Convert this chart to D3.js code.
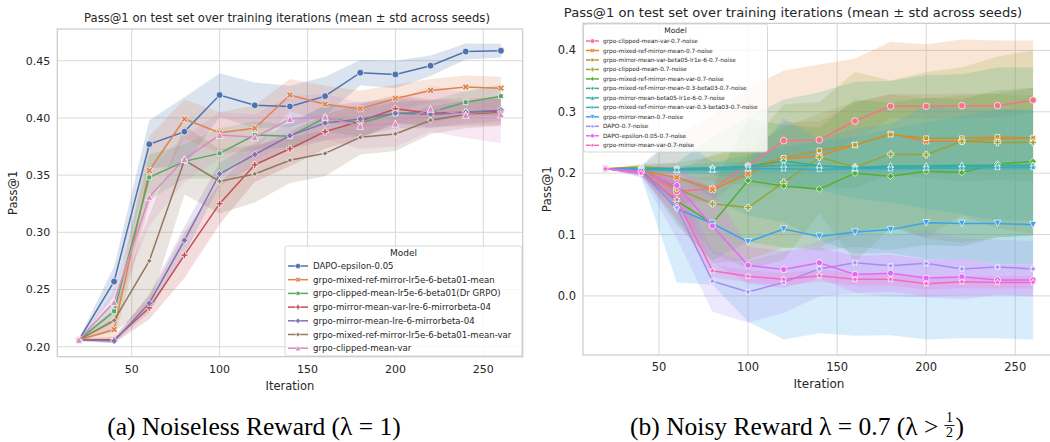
<!DOCTYPE html>
<html><head><meta charset="utf-8">
<script src="https://cdn.jsdelivr.net/npm/d3@7"></script>
<style>body{margin:0;background:#fff;} svg{display:block;font-family:"DejaVu Sans",sans-serif;}</style>
</head><body><svg id="c" width="1050" height="442"></svg>
<script>
const iterations = [20,40,60,80,100,120,140,160,180,200,220,240,260];
const xTicks = [50,100,150,200,250];
const leftYTicks = [0.20,0.25,0.30,0.35,0.40,0.45];
const rightYTicks = [0.0,0.1,0.2,0.3,0.4];

// ---- Left chart (noiseless) ----
const leftNames = ["DAPO-epsilon-0.05","grpo-mixed-ref-mirror-lr5e-6-beta01-mean","grpo-clipped-mean-lr5e-6-beta01(Dr GRPO)","grpo-mirror-mean-var-lre-6-mirrorbeta-04","grpo-mirror-mean-lre-6-mirrorbeta-04","grpo-mixed-ref-mirror-lr5e-6-beta01-mean-var","grpo-clipped-mean-var"];
const leftColors = ["#4c72b0","#dd8452","#55a868","#c44e52","#8172b3","#937860","#da8bc3"];
const leftMarkers = ["o","X","s","P","D","s4","^"];
const lDapo = [0.206,0.257,0.377,0.388,0.420,0.411,0.410,0.419,0.4395,0.438,0.4456,0.458,0.4587];
const lDapoStd = [0.001,0.013,0.021,0.03,0.019,0.02,0.018,0.017,0.011,0.012,0.009,0.007,0.006];
const lMixMean = [0.206,0.215,0.354,0.399,0.387,0.391,0.420,0.412,0.408,0.417,0.424,0.427,0.426];
const lMixMeanStd = [0.001,0.01,0.03,0.017,0.018,0.02,0.014,0.016,0.016,0.012,0.01,0.01,0.01];
const lClipMean = [0.206,0.231,0.348,0.362,0.369,0.385,0.384,0.400,0.3955,0.404,0.405,0.4137,0.419];
const lClipMeanStd = [0.001,0.01,0.02,0.015,0.022,0.012,0.01,0.012,0.012,0.01,0.01,0.01,0.01];
const lMirMeanVar = [0.206,0.206,0.234,0.280,0.325,0.359,0.373,0.388,0.397,0.408,0.404,0.405,0.406];
const lMirMeanVarStd = [0.001,0.003,0.01,0.02,0.018,0.015,0.015,0.015,0.015,0.012,0.012,0.012,0.012];
const lMirMean = [0.206,0.205,0.238,0.293,0.351,0.368,0.3845,0.3955,0.399,0.404,0.403,0.405,0.407];
const lMirMeanStd = [0.001,0.002,0.008,0.012,0.01,0.01,0.012,0.015,0.015,0.013,0.012,0.01,0.01];
const lMixMeanVar = [0.206,0.223,0.275,0.363,0.3445,0.351,0.363,0.369,0.383,0.386,0.398,0.403,0.405];
const lMixMeanVarStd = [0.001,0.01,0.04,0.03,0.028,0.025,0.02,0.02,0.015,0.015,0.012,0.012,0.012];
const lClipMeanVar = [0.206,0.239,0.331,0.364,0.385,0.383,0.399,0.401,0.393,0.395,0.408,0.4025,0.403];
const lClipMeanVarStd = [0.001,0.01,0.025,0.02,0.02,0.02,0.02,0.02,0.02,0.02,0.02,0.02,0.025];
const leftMeans = [lDapo,lMixMean,lClipMean,lMirMeanVar,lMirMean,lMixMeanVar,lClipMeanVar];
const leftStds = [lDapoStd,lMixMeanStd,lClipMeanStd,lMirMeanVarStd,lMirMeanStd,lMixMeanVarStd,lClipMeanVarStd];

// ---- Right chart (noisy 0.7) ----
const rightNames = ["grpo-clipped-mean-var-0.7-noise","grpo-mixed-ref-mirror-mean-0.7-noise","grpo-mirror-mean-var-beta05-lr1e-6-0.7-noise","grpo-clipped-mean-0.7-noise","grpo-mixed-ref-mirror-mean-var-0.7-noise","grpo-mixed-ref-mirror-mean-0.3-beta03-0.7-noise","grpo-mirror-mean-beta05-lr1e-6-0.7-noise","grpo-mixed-ref-mirror-mean-var-0.3-beta03-0.7-noise","grpo-mirror-mean-0.7-noise","DAPO-0.7-noise","DAPO-epsilon-0.05-0.7-noise","grpo-mirror-mean-var-0.7-noise"];
const rightColors = ["#f77189","#e68332","#bb9832","#97a431","#50b131","#34af8a","#36ada4","#38aabf","#3ba3ec","#a48cf4","#e866f4","#f668c2"];
const rightMarkers = ["o","X","s","P","D","s4","^","s4r","v","s6","h","s5"];
const rClipMeanVar = [0.207,0.205,0.170,0.175,0.212,0.253,0.254,0.285,0.309,0.309,0.310,0.310,0.319];
const rClipMeanVarStd = [0,0.005,0.02,0.02,0.015,0.03,0.03,0.03,0.02,0.02,0.02,0.02,0.02];
const rMixMean = [0.207,0.204,0.193,0.173,0.199,0.223,0.228,0.246,0.264,0.252,0.252,0.256,0.257];
const rMixMeanStd = [0,0.005,0.07,0.12,0.14,0.144,0.149,0.141,0.15,0.158,0.166,0.16,0.159];
const rMirMeanVarB = [0.207,0.210,0.207,0.207,0.210,0.225,0.237,0.246,0.263,0.257,0.257,0.259,0.257];
const rMirMeanVarBStd = [0,0.005,0.01,0.02,0.03,0.05,0.06,0.07,0.065,0.065,0.07,0.07,0.07];
const rClipMean = [0.207,0.208,0.175,0.150,0.144,0.185,0.226,0.210,0.231,0.230,0.252,0.250,0.250];
const rClipMeanStd = [0,0.005,0.03,0.08,0.1,0.127,0.09,0.155,0.12,0.135,0.12,0.14,0.15];
const rMixMeanVar = [0.207,0.203,0.155,0.118,0.188,0.179,0.174,0.200,0.195,0.203,0.201,0.215,0.219];
const rMixMeanVarStd = [0,0.005,0.04,0.06,0.1,0.1,0.1,0.12,0.12,0.12,0.12,0.12,0.12];
const rMixMean03 = [0.207,0.208,0.207,0.209,0.211,0.220,0.212,0.209,0.210,0.210,0.211,0.212,0.212];
const rMixMean03Std = [0,0.004,0.01,0.05,0.08,0.1,0.12,0.14,0.14,0.15,0.15,0.16,0.16];
const rMirMeanB = [0.207,0.207,0.206,0.207,0.210,0.213,0.212,0.209,0.212,0.212,0.213,0.213,0.213];
const rMirMeanBStd = [0,0.003,0.005,0.01,0.02,0.03,0.04,0.05,0.06,0.07,0.08,0.09,0.09];
const rMixMeanVar03 = [0.207,0.206,0.205,0.205,0.207,0.207,0.206,0.207,0.207,0.208,0.208,0.209,0.209];
const rMixMeanVar03Std = [0,0.003,0.005,0.005,0.005,0.005,0.005,0.005,0.005,0.005,0.005,0.005,0.005];
const rMirMean = [0.207,0.203,0.142,0.118,0.088,0.109,0.097,0.104,0.108,0.119,0.118,0.118,0.116];
const rMirMeanStd = [0,0.01,0.12,0.1,0.13,0.18,0.158,0.169,0.172,0.19,0.187,0.187,0.187];
const rDapo = [0.207,0.200,0.144,0.024,0.0065,0.022,0.044,0.054,0.049,0.053,0.044,0.047,0.044];
const rDapoStd = [0,0.005,0.05,0.05,0.05,0.05,0.045,0.05,0.05,0.055,0.05,0.045,0.045];
const rDapoEps = [0.207,0.203,0.180,0.114,0.050,0.043,0.054,0.035,0.037,0.029,0.031,0.026,0.026];
const rDapoEpsStd = [0,0.005,0.03,0.06,0.03,0.03,0.025,0.03,0.03,0.03,0.03,0.025,0.025];
const rMirMeanVar = [0.207,0.200,0.157,0.041,0.032,0.027,0.033,0.027,0.027,0.020,0.023,0.022,0.022];
const rMirMeanVarStd = [0,0.005,0.03,0.01,0.01,0.01,0.01,0.01,0.01,0.01,0.01,0.01,0.01];
const rightMeans = [rClipMeanVar,rMixMean,rMirMeanVarB,rClipMean,rMixMeanVar,rMixMean03,rMirMeanB,rMixMeanVar03,rMirMean,rDapo,rDapoEps,rMirMeanVar];
const rightStds = [rClipMeanVarStd,rMixMeanStd,rMirMeanVarBStd,rClipMeanStd,rMixMeanVarStd,rMixMean03Std,rMirMeanBStd,rMixMeanVar03Std,rMirMeanStd,rDapoStd,rDapoEpsStd,rMirMeanVarStd];

const titleText = "Pass@1 on test set over training iterations (mean \u00b1 std across seeds)";
const TXT = "#262626";

function markerPath(type, r) {
  const rad = d => d*Math.PI/180;
  const poly = (n, R, rot) => d3.range(n).map(i => { const t = Math.PI/2 + 2*Math.PI*i/n + rad(rot); return [R*Math.cos(t), -R*Math.sin(t)]; });
  const star = (n, R, rot) => d3.range(2*n).map(i => { const rr = i%2 ? R*0.5 : R; const t = Math.PI/2 + Math.PI*i/n + rad(rot); return [rr*Math.cos(t), -rr*Math.sin(t)]; });
  const P = a => "M" + a.map(p => p[0].toFixed(2)+","+p[1].toFixed(2)).join("L") + "Z";
  switch(type){
    case "o": return `M${r},0A${r},${r} 0 1,1 ${-r},0A${r},${r} 0 1,1 ${r},0Z`;
    case "X": return P([[-1,-2],[0,-1],[1,-2],[2,-1],[1,0],[2,1],[1,2],[0,1],[-1,2],[-2,1],[-1,0],[-2,-1]].map(p=>[p[0]*r/2,p[1]*r/2]));
    case "s": return P(poly(4, r, 45));
    case "P": return P([[-1,-3],[1,-3],[1,-1],[3,-1],[3,1],[1,1],[1,3],[-1,3],[-1,1],[-3,1],[-3,-1],[-1,-1]].map(p=>[p[0]*r/3,p[1]*r/3]));
    case "D": return P(poly(4, r, 0));
    case "s4": return P(star(4, r, 0));
    case "^": return P([[0,-r],[-r,r],[r,r]]);
    case "s4r": return P(star(4, r, 45));
    case "v": return P([[0,r],[-r,-r],[r,-r]]);
    case "s6": return P(star(6, r, 30));
    case "h": return P(poly(6, r, 30));
    case "s5": return P(star(5, r, 0));
  }
}

const svg = d3.select("#c");

function drawChart(cfg) {
  const g = svg.append("g");
  const x = d3.scaleLinear().domain(cfg.xDomain).range([cfg.left, cfg.right]);
  const y = d3.scaleLinear().domain(cfg.yDomain).range([cfg.bottom, cfg.top]);
  const clipId = "clip" + cfg.id;
  svg.append("clipPath").attr("id", clipId).append("rect")
    .attr("x", cfg.left).attr("y", cfg.top).attr("width", cfg.right - cfg.left).attr("height", cfg.bottom - cfg.top);

  const grid = g.append("g");
  grid.selectAll("line.v").data(xTicks).join("line")
    .attr("x1", d => x(d)).attr("x2", d => x(d)).attr("y1", cfg.top).attr("y2", cfg.bottom)
    .attr("stroke", "#d9d9d9").attr("stroke-width", 1);
  grid.selectAll("line.h").data(cfg.yTicks).join("line")
    .attr("y1", d => y(d)).attr("y2", d => y(d)).attr("x1", cfg.left).attr("x2", cfg.right)
    .attr("stroke", "#d9d9d9").attr("stroke-width", 1);

  const plot = g.append("g").attr("clip-path", `url(#${clipId})`);
  const area = d3.area().x((d,i) => x(iterations[i])).y0(d => y(d[0] - d[1])).y1(d => y(d[0] + d[1]));
  const line = d3.line().x((d,i) => x(iterations[i])).y(d => y(d));
  cfg.means.forEach((m, k) => {
    plot.append("path").datum(m.map((v,i) => [v, cfg.stds[k][i]]))
      .attr("d", area).attr("fill", cfg.colors[k]).attr("fill-opacity", 0.2).attr("stroke", "none");
  });
  cfg.means.forEach((m, k) => {
    plot.append("path").datum(m).attr("d", line).attr("fill", "none")
      .attr("stroke", cfg.colors[k]).attr("stroke-width", cfg.lw);
    plot.append("g").selectAll("path").data(m).join("path")
      .attr("transform", (d,i) => `translate(${x(iterations[i])},${y(d)})`)
      .attr("d", markerPath(cfg.markers[k], cfg.ms))
      .attr("fill", cfg.colors[k]).attr("stroke", "#fff").attr("stroke-width", 0.7);
  });

  g.append("rect").attr("x", cfg.left).attr("y", cfg.top).attr("width", cfg.right - cfg.left).attr("height", cfg.bottom - cfg.top)
    .attr("fill", "none").attr("stroke", "#cccccc").attr("stroke-width", 1.25);

  g.append("g").selectAll("text").data(xTicks).join("text")
    .attr("x", d => x(d)).attr("y", cfg.bottom + 16).attr("text-anchor", "middle")
    .attr("font-size", cfg.tickFs).attr("fill", TXT).text(d => d);
  g.append("g").selectAll("text").data(cfg.yTicks).join("text")
    .attr("x", cfg.left - 7).attr("y", d => y(d)).attr("dy", "0.35em").attr("text-anchor", "end")
    .attr("font-size", cfg.tickFs).attr("fill", TXT).text(d => cfg.yFmt(d));

  g.append("text").attr("x", cfg.xLabelX).attr("y", cfg.bottom + 33).attr("text-anchor", "middle")
    .attr("font-size", cfg.labelFs).attr("fill", TXT).text("Iteration");
  g.append("text").attr("transform", `translate(${cfg.yLabelX},${(cfg.top + cfg.bottom)/2}) rotate(-90)`)
    .attr("text-anchor", "middle").attr("font-size", cfg.labelFs).attr("fill", TXT).text("Pass@1");
  g.append("text").attr("x", cfg.titleX).attr("y", cfg.titleY).attr("text-anchor", "middle")
    .attr("font-size", cfg.titleFs).attr("fill", TXT).text(titleText);

  const L = cfg.legend;
  const lg = g.append("g");
  lg.append("rect").attr("x", L.x).attr("y", L.y).attr("width", L.w).attr("height", L.h).attr("rx", 2.5)
    .attr("fill", "#fff").attr("fill-opacity", 0.8).attr("stroke", "#cccccc").attr("stroke-width", 0.8);
  lg.append("text").attr("x", L.x + L.w/2).attr("y", L.titleY).attr("dy", "0.35em").attr("text-anchor", "middle")
    .attr("font-size", L.titleFs).attr("fill", TXT).text("Model");
  cfg.names.forEach((name, k) => {
    const yy = L.y0 + k * L.dy;
    lg.append("line").attr("x1", L.lx1).attr("x2", L.lx2).attr("y1", yy).attr("y2", yy)
      .attr("stroke", cfg.colors[k]).attr("stroke-width", cfg.lw);
    lg.append("path").attr("transform", `translate(${(L.lx1 + L.lx2)/2},${yy})`)
      .attr("d", markerPath(cfg.markers[k], L.ms)).attr("fill", cfg.colors[k]).attr("stroke", "#fff").attr("stroke-width", 0.5);
    lg.append("text").attr("x", L.tx).attr("y", yy).attr("dy", "0.35em").attr("font-size", L.fs)
      .attr("fill", TXT).text(name);
  });
}

drawChart({
  id: "L", left: 57.3, right: 522.7, top: 29, bottom: 356.7,
  xDomain: [7.68, 272.4], yDomain: [0.19126, 0.4777], yTicks: leftYTicks, yFmt: d3.format(".2f"),
  means: leftMeans, stds: leftStds, colors: leftColors, markers: leftMarkers, names: leftNames,
  lw: 1.5, ms: 3.4, tickFs: 11, labelFs: 11.5, titleFs: 11.6, titleX: 287, titleY: 22,
  xLabelX: 290, yLabelX: 17,
  legend: { x: 285, y: 246, w: 237, h: 110, titleY: 253, titleFs: 9, y0: 266, dy: 13.7, lx1: 288, lx2: 308, tx: 313, fs: 8.6, ms: 2.6 }
});

drawChart({
  id: "R", left: 583, right: 1055, top: 23.3, bottom: 355,
  xDomain: [7.34, 272.3], yDomain: [-0.0963, 0.4442], yTicks: rightYTicks, yFmt: d3.format(".1f"),
  means: rightMeans, stds: rightStds, colors: rightColors, markers: rightMarkers, names: rightNames,
  lw: 1.5, ms: 3.3, tickFs: 11.5, labelFs: 12, titleFs: 13.1, titleX: 793, titleY: 17,
  xLabelX: 819, yLabelX: 551,
  legend: { x: 583.5, y: 24, w: 184, h: 128, titleY: 30, titleFs: 7.5, y0: 41, dy: 9.48, lx1: 586, lx2: 599, tx: 603, fs: 5.8, ms: 2.2 }
});

// captions
const cap = svg.append("g").attr("font-family", "'Liberation Serif','Times New Roman',serif").attr("fill", "#000");
cap.append("text").attr("x", 254).attr("y", 435).attr("text-anchor", "middle").attr("font-size", 25.5)
  .text("(a) Noiseless Reward (\u03bb = 1)");
const capB = cap.append("g");
const partB = capB.append("text").attr("x", 0).attr("y", 435).attr("font-size", 25.5).text("(b) Noisy Reward \u03bb = 0.7 (\u03bb >");
const wB = partB.node().getComputedTextLength() + 5;
capB.append("text").attr("x", wB + 6).attr("y", 422).attr("text-anchor", "middle").attr("font-size", 14).text("1");
capB.append("line").attr("x1", wB + 1).attr("x2", wB + 11).attr("y1", 425.5).attr("y2", 425.5).attr("stroke", "#000").attr("stroke-width", 0.9);
capB.append("text").attr("x", wB + 6).attr("y", 437).attr("text-anchor", "middle").attr("font-size", 14).text("2");
const closeB = capB.append("text").attr("x", wB + 12).attr("y", 435).attr("font-size", 25.5).text(")");
const totalB = wB + 12 + closeB.node().getComputedTextLength();
capB.attr("transform", `translate(${797 - totalB/2},0)`);
</script></body></html>
